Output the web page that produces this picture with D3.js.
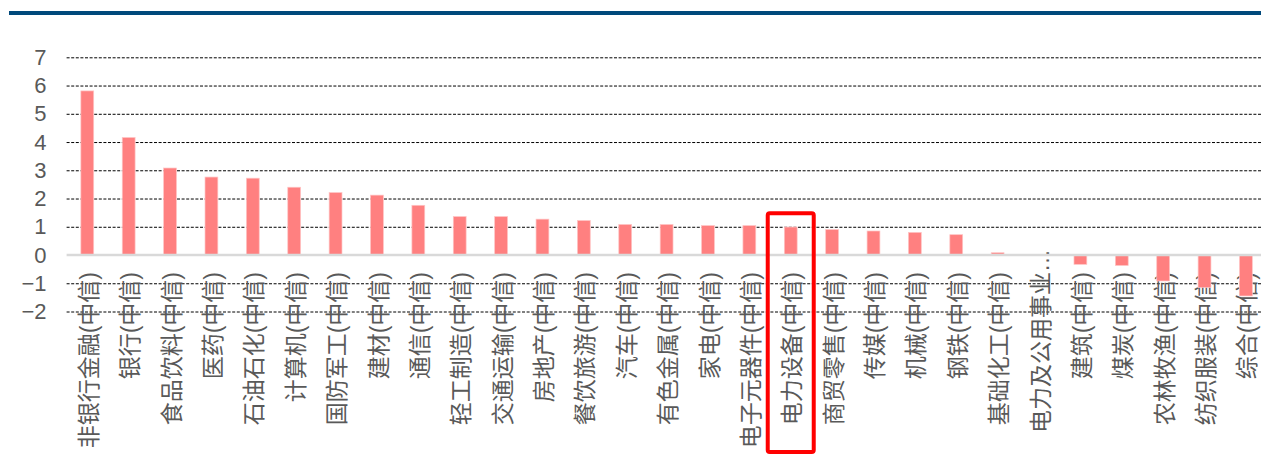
<!DOCTYPE html>
<html>
<head>
<meta charset="utf-8">
<script src="https://cdn.jsdelivr.net/npm/d3@7"></script>
<style>
  html, body { margin: 0; padding: 0; background: #fff; }
  svg { display: block; font-family: "Liberation Sans", "Noto Sans CJK SC", sans-serif; }
  .grid .tick line { stroke: #000; stroke-width: 1; stroke-dasharray: 3, 1.6; }
  .grid .tick text { fill: #595959; font-size: 22px; }
  .cat-label { fill: #595959; font-size: 23px; }
</style>
</head>
<body>
<svg id="chart" width="1261" height="459"></svg>
<script>
// industry names (中信一级)
var categories = [
  "非银行金融(中信)", "银行(中信)", "食品饮料(中信)", "医药(中信)", "石油石化(中信)",
  "计算机(中信)", "国防军工(中信)", "建材(中信)", "通信(中信)", "轻工制造(中信)",
  "交通运输(中信)", "房地产(中信)", "餐饮旅游(中信)", "汽车(中信)", "有色金属(中信)",
  "家电(中信)", "电子元器件(中信)", "电力设备(中信)", "商贸零售(中信)", "传媒(中信)",
  "机械(中信)", "钢铁(中信)", "基础化工(中信)", "电力及公用事业…", "建筑(中信)",
  "煤炭(中信)", "农林牧渔(中信)", "纺织服装(中信)", "综合(中信)"
];
var values = [
  5.81, 4.16, 3.08, 2.76, 2.72,
  2.40, 2.21, 2.12, 1.76, 1.36,
  1.36, 1.27, 1.22, 1.08, 1.08,
  1.04, 1.04, 0.99, 0.90, 0.85,
  0.80, 0.72, 0.08, 0.00, -0.33,
  -0.37, -0.92, -1.15, -1.45
];
var yTicks = [-2, -1, 0, 1, 2, 3, 4, 5, 6, 7];
var highlighted = "电力设备(中信)";

var data = categories.map(function(c, i) {
  return { name: c, value: values[i] };
});

var svg = d3.select("#chart");
var left = 66.6, right = 1266.6;

var x = d3.scaleBand()
  .domain(categories)
  .range([left, right])
  .paddingInner(0.69)
  .paddingOuter(0.345);

var y = d3.scaleLinear()
  .domain([-2, 7])
  .range([311.5, 57.3]);

// top rule
svg.append("rect")
  .attr("x", 9).attr("y", 11)
  .attr("width", 1261 - 9).attr("height", 4)
  .attr("fill", "#00497b");

// gridlines + y labels
var grid = svg.append("g")
  .attr("class", "grid")
  .attr("transform", "translate(" + left + ",0)")
  .call(d3.axisLeft(y)
    .tickValues(yTicks)
    .tickFormat(d3.format("d"))
    .tickSize(-(1261 - left))
    .tickPadding(20));
grid.select(".domain").remove();
grid.selectAll(".tick line")
  .filter(function(d) { return d === 0; })
  .remove();

// category labels
var center = function(d) { return x(d) + x.bandwidth() / 2; };
svg.append("g")
  .selectAll("text")
  .data(categories)
  .enter()
  .append("text")
  .attr("class", "cat-label")
  .attr("text-anchor", "end")
  .attr("dy", "0.35em")
  .attr("transform", function(d) {
    var top = d.indexOf("…") > -1 ? 249 : 272;
    return "translate(" + (center(d) + 1.5) + "," + top + ") rotate(-90)";
  })
  .text(function(d) { return d; });

// bars
svg.append("g")
  .selectAll("rect")
  .data(data.filter(function(d) { return d.value !== 0; }))
  .enter()
  .append("rect")
  .attr("x", function(d) { return x(d.name); })
  .attr("y", function(d) { return y(Math.max(0, d.value)); })
  .attr("width", x.bandwidth())
  .attr("height", function(d) { return Math.abs(y(d.value) - y(0)); })
  .attr("fill", "#ff8080")
  .attr("stroke", "#ffc4c4")
  .attr("stroke-width", 0.7);

// zero axis line
svg.append("line")
  .attr("x1", left).attr("x2", 1261)
  .attr("y1", y(0)).attr("y2", y(0))
  .attr("stroke", "#d9d9d9")
  .attr("stroke-width", 2.5);

// highlight box
svg.append("rect")
  .attr("x", center(highlighted) - 23)
  .attr("y", y(1.48))
  .attr("width", 46)
  .attr("height", 452 - y(1.48))
  .attr("rx", 2)
  .attr("fill", "none")
  .attr("stroke", "#ff0000")
  .attr("stroke-width", 4);
</script>
</body>
</html>
